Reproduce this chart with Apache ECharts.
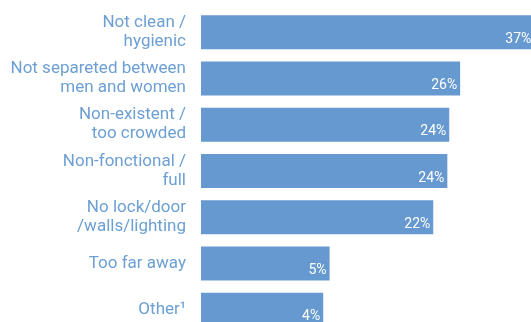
<!DOCTYPE html>
<html>
<head>
<meta charset="utf-8">
<script src="https://cdn.jsdelivr.net/npm/echarts@6/dist/echarts.min.js"></script>
<style>
  html, body { margin: 0; padding: 0; background: #fff; }
  #chart { width: 531px; height: 322px; }
</style>
</head>
<body>
<div id="chart"></div>
<script>
// categories, top to bottom
const categories = [
  'Not clean /\nhygienic',
  'Not separeted between\nmen and women',
  'Non-existent /\ntoo crowded',
  'Non-fonctional /\nfull',
  'No lock/door\n/walls/lighting',
  'Too far away',
  'Other¹'
]
// share of respondents (%)
const values = [37.4, 25.8, 24.1, 23.8, 21.6, 5.4, 4.4]

const chart = echarts.init(document.getElementById('chart'))
chart.setOption({
  animation: false,
  // the original figure is cropped at the right and bottom
  grid: {
    top: 9,
    left: 201,
    width: 350,
    height: 324,
    outerBoundsMode: 'none',
    containLabel: false
  },
  xAxis: {
    type: 'value',
    min: -14.7,
    max: 40,
    startValue: -14.7, // bars start at the left edge of the plot
    show: false
  },
  yAxis: {
    type: 'category',
    data: categories,
    inverse: true,
    axisLine: { show: false },
    axisTick: { show: false },
    axisLabel: {
      margin: 15,
      color: '#6c9fd3',
      fontFamily: 'Roboto',
      fontSize: 17,
      lineHeight: 19,
      align: 'right'
    }
  },
  series: [{
    type: 'bar',
    data: values,
    barWidth: 34,
    itemStyle: { color: '#6699d0' },
    label: {
      show: true,
      position: 'insideBottomRight',
      distance: 3,
      color: '#ffffff',
      fontFamily: 'Roboto',
      fontSize: 14,
      formatter: p => Math.round(p.value) + '%'
    }
  }]
})
</script>
</body>
</html>
